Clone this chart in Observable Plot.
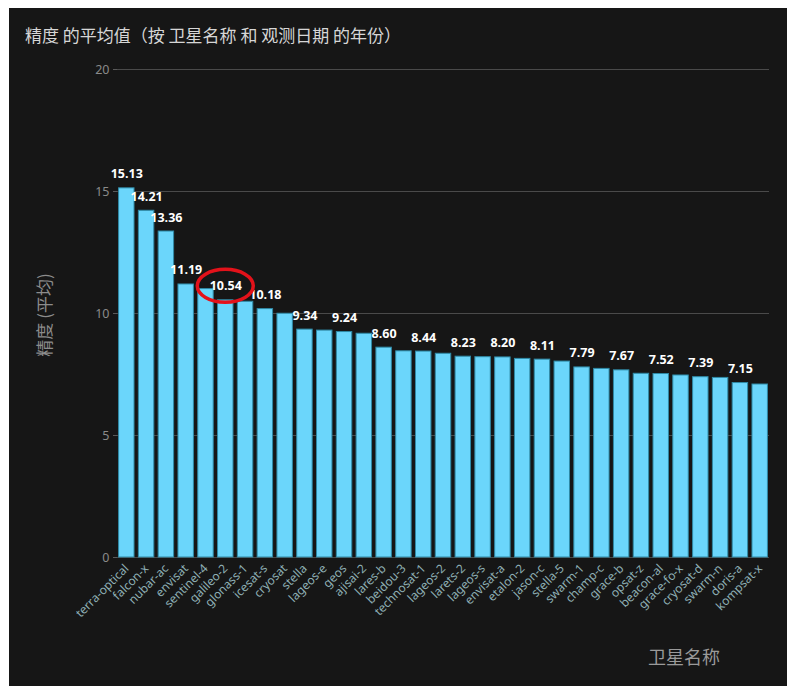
<!DOCTYPE html>
<html><head><meta charset="utf-8">
<script src="https://cdn.jsdelivr.net/npm/d3@7"></script>
<script src="https://cdn.jsdelivr.net/npm/@observablehq/plot@0.6"></script>
<style>
html,body{margin:0;padding:0}
body{background:#fff;width:787px;height:686px;overflow:hidden;position:relative;font-family:"Noto Sans CJK SC","Noto Sans",sans-serif}
#panel{position:absolute;left:9px;top:8px;width:778px;height:678px;background:#161616}
#title{position:absolute;left:25px;top:24px;font-size:17px;color:#d6d6d6;white-space:nowrap;line-height:22px}
#ytitle{position:absolute;left:44px;top:315px;transform:translate(-50%,-50%) rotate(-90deg);font-size:17px;color:#8c8c8c;white-space:nowrap;line-height:22px}
#xtitle{position:absolute;left:648px;top:644px;font-size:18px;color:#9a9a9a;white-space:nowrap;line-height:24px}
#chart{position:absolute;left:0;top:0}
</style></head>
<body>
<div id="panel"></div>
<div id="title">精度 的平均值（按 卫星名称 和 观测日期 的年份）</div>
<div id="ytitle">精度 (平均)</div>
<div id="xtitle">卫星名称</div>
<div id="chart"></div>
<script>
const names = ["terra-optical","falcon-x","nubar-ac","envisat","sentinel-4","galileo-2","glonass-1","icesat-s","cryosat","stella","lageos-e","geos","ajisai-2","lares-b","beidou-3","technosat-1","lageos-2","larets-2","lageos-s","envisat-a","etalon-2","jason-c","stella-5","swarm-1","champ-c","grace-b","opsat-z","beacon-al","grace-fo-x","cryosat-d","swarm-n","doris-a","kompsat-x"];
const values = [15.13,14.21,13.36,11.19,11.00,10.54,10.48,10.18,9.99,9.34,9.30,9.24,9.17,8.60,8.45,8.44,8.35,8.23,8.21,8.20,8.14,8.11,8.03,7.79,7.73,7.67,7.53,7.52,7.46,7.39,7.36,7.15,7.09];
const yTicks = [0,5,10,15,20];
const highlighted = "galileo-2";

const data = names.map((n,i)=>({name:n, value:values[i]}));
const labelShown = (d,i) => i < 4 || i % 2 === 1;

const plot = Plot.plot({
  width: 787, height: 686,
  marginTop: 69, marginBottom: 129, marginLeft: 117, marginRight: 18,
  style: {background: "transparent", fontFamily: "'Noto Sans', sans-serif"},
  x: {type: "band", domain: names, paddingInner: 0.22, paddingOuter: 0.08, round: false, label: null},
  y: {domain: [0, 20], label: null},
  marks: [
    Plot.gridY(yTicks, {stroke: "#4a4a4a", strokeOpacity: 1}),
    Plot.axisY(yTicks, {tickSize: 4, tickPadding: 4, stroke: "#5a5a5a", fill: "#8a8a8a", fontSize: 12.5, label: null}),
    Plot.axisX({tickRotate: -45, tickSize: 0, tickPadding: 9, fill: "#8fb0b5", fontSize: 12, label: null}),
    Plot.barY(data, {x: "name", y: "value", fill: "#6bd6fb", stroke: "#2f8aa6", strokeWidth: 1}),
    Plot.text(data.filter(labelShown), {x: "name", y: "value", text: d => d.value.toFixed(2), dy: -10, lineAnchor: "bottom", fill: "#ffffff", fontWeight: "bold", fontSize: 12.5, fontFamily: "'Open Sans', sans-serif"})
  ]
});
document.getElementById("chart").appendChild(plot);

const xs = plot.scale("x"), ys = plot.scale("y");
const hv = values[names.indexOf(highlighted)];
d3.select(plot).append("ellipse")
  .attr("cx", xs.apply(highlighted) + xs.bandwidth / 2)
  .attr("cy", ys.apply(hv) - 14)
  .attr("rx", 28).attr("ry", 16.5)
  .attr("fill", "none").attr("stroke", "#e3121a").attr("stroke-width", 3.5);
</script>
</body></html>
